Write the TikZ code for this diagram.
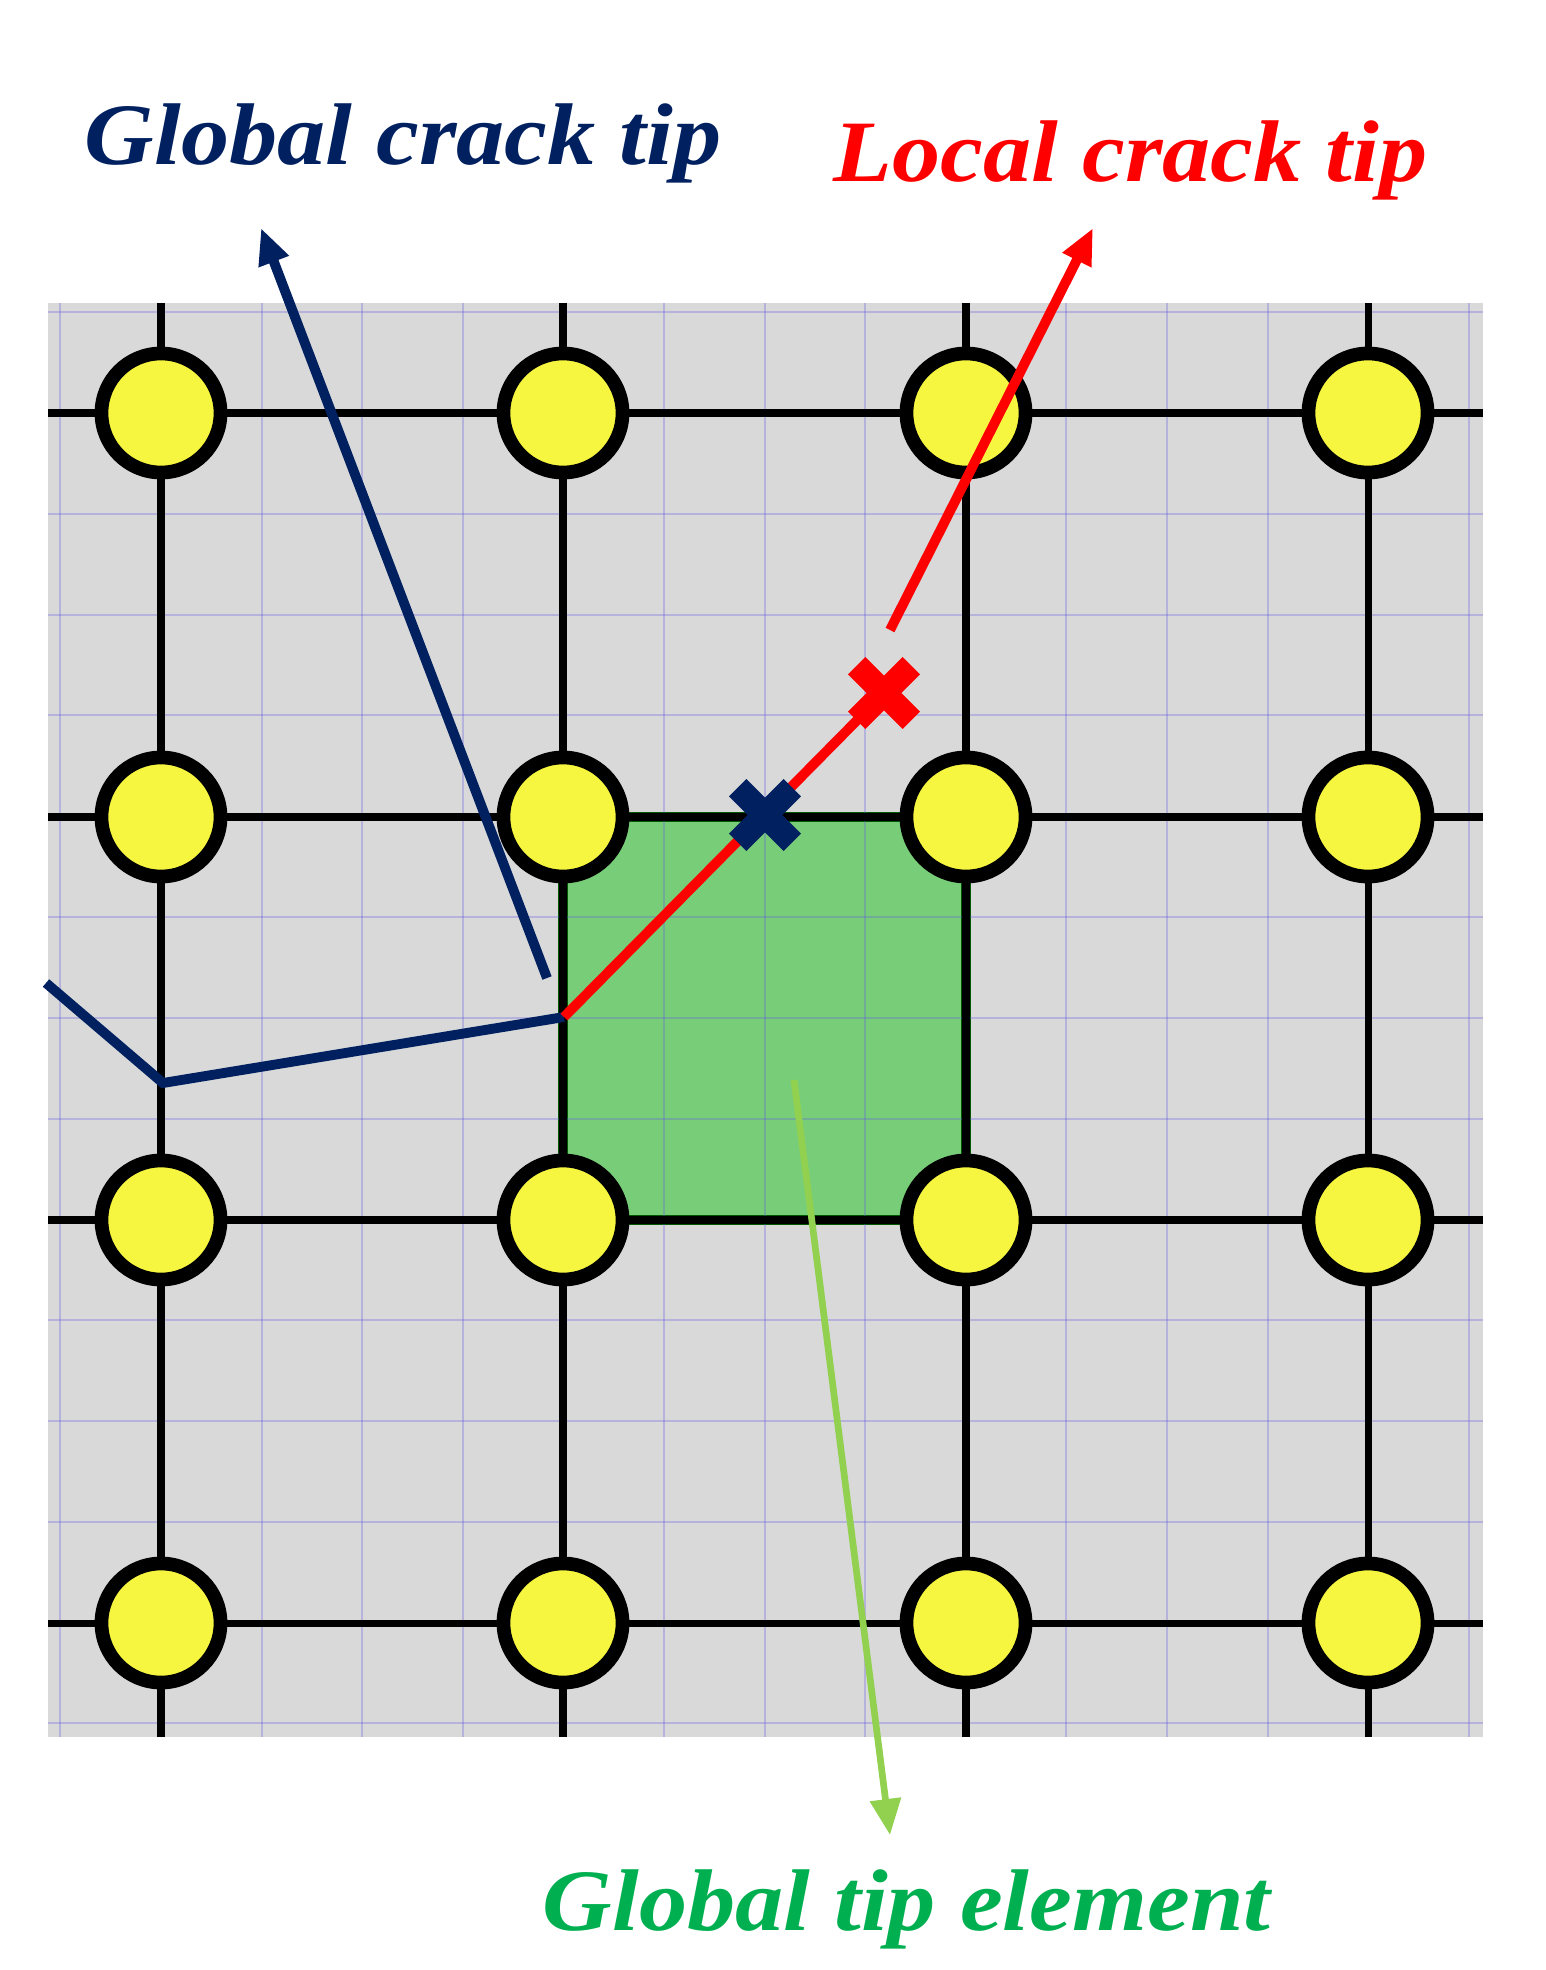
\documentclass[tikz,border=0pt]{standalone}
\usepackage{fontspec}
\newfontfamily\labelfont{Liberation Serif}[FakeStretch=1.1]
\usetikzlibrary{arrows.meta,shapes.misc}

\definecolor{navy}{HTML}{002060}
\definecolor{tipred}{HTML}{FF0000}
\definecolor{tipgreen}{HTML}{00B050}
\definecolor{arrowgreen}{HTML}{92D050}
\definecolor{elemgreen}{RGB}{120,206,120}
\definecolor{meshgray}{RGB}{217,217,217}
\definecolor{gridblue}{RGB}{100,90,225}
\definecolor{nodeyellow}{RGB}{246,246,64}

\begin{document}
\begin{tikzpicture}[x=0.01cm, y=-0.01cm,
    meshnode/.style={circle, draw=black, fill=nodeyellow, line width=3.9pt, minimum size=1.19cm, inner sep=0pt},
    meshline/.style={black, line width=2pt},
    minorline/.style={gridblue, line width=0.6pt, opacity=0.3},
    tipmark/.style={cross out, draw, line width=7pt, minimum size=0.3cm, inner sep=0pt},
    tiptext/.style={inner sep=0pt, anchor=base west, font=\labelfont\bfseries\itshape\fontsize{24.9}{30}\selectfont},
    pointer/.style={-{Triangle[length=0.36cm, width=0.3cm]}, line width=2.8pt}]
      \useasboundingbox (0,0) rectangle (1546,1970);

      % Mesh
      \fill[meshgray] (48,303) rectangle (1483,1737);
      \fill[elemgreen] (563,817) rectangle (966,1220);
      \draw[green!35!black, line width=3pt] (563,817) rectangle (966,1220);
      \foreach \i in {0,...,14} {
        \draw[minorline] ({60.4+100.6*\i},303) -- ({60.4+100.6*\i},1737);
        \draw[minorline] (48,{312.2+100.8*\i}) -- (1483,{312.2+100.8*\i});
      }
      \foreach \x in {161,563,966,1368}
        \draw[meshline] (\x,303) -- (\x,1737);
      \foreach \y in {413,817,1220,1623}
        \draw[meshline] (48,\y) -- (1483,\y);

      % Nodes
      \node[meshnode] (n11) at (161,413) {};
      \node[meshnode] (n12) at (563,413) {};
      \node[meshnode] (n13) at (966,413) {};
      \node[meshnode] (n14) at (1368,413) {};
      \node[meshnode] (n21) at (161,817) {};
      \node[meshnode] (n22) at (563,817) {};
      \node[meshnode] (n23) at (966,817) {};
      \node[meshnode] (n24) at (1368,817) {};
      \node[meshnode] (n31) at (161,1220) {};
      \node[meshnode] (n32) at (563,1220) {};
      \node[meshnode] (n33) at (966,1220) {};
      \node[meshnode] (n34) at (1368,1220) {};
      \node[meshnode] (n41) at (161,1623) {};
      \node[meshnode] (n42) at (563,1623) {};
      \node[meshnode] (n43) at (966,1623) {};
      \node[meshnode] (n44) at (1368,1623) {};

      % Crack
      \coordinate (crackin) at (46,983);
      \coordinate (crackbend) at (163,1083);
      \coordinate (crackend) at (564,1017);
      \coordinate (localtip) at (884,693);
      \coordinate (globaltip) at (765,815);
      \draw[navy, line width=2.8pt] (crackin) -- (crackbend) -- (crackend);
      \draw[tipred, line width=2.8pt] (crackend) -- (localtip);
      \node[tipmark, tipred] (localmark) at (localtip) {};
      \node[tipmark, navy] (globalmark) at (globaltip) {};

      % Labels
      \node[tiptext, navy] (globallabel) at (84,165) {Global crack tip};
      \node[tiptext, tipred] (locallabel) at (833,182) {Local crack tip};
      \node[tiptext, tipgreen] (elemlabel) at (542,1930) {Global tip element};

      % Arrows
      \coordinate (globalfrom) at (547,978);
      \coordinate (globalto) at (261,228);
      \coordinate (localfrom) at (890,630);
      \coordinate (localto) at (1093,228);
      \coordinate (elemfrom) at (794,1080);
      \coordinate (elemto) at (890,1835);
      \draw[pointer, navy] (globalfrom) -- (globalto);
      \draw[pointer, tipred] (localfrom) -- (localto);
      \draw[pointer, arrowgreen, line width=1.9pt] (elemfrom) -- (elemto);
    \end{tikzpicture}
\end{document}
